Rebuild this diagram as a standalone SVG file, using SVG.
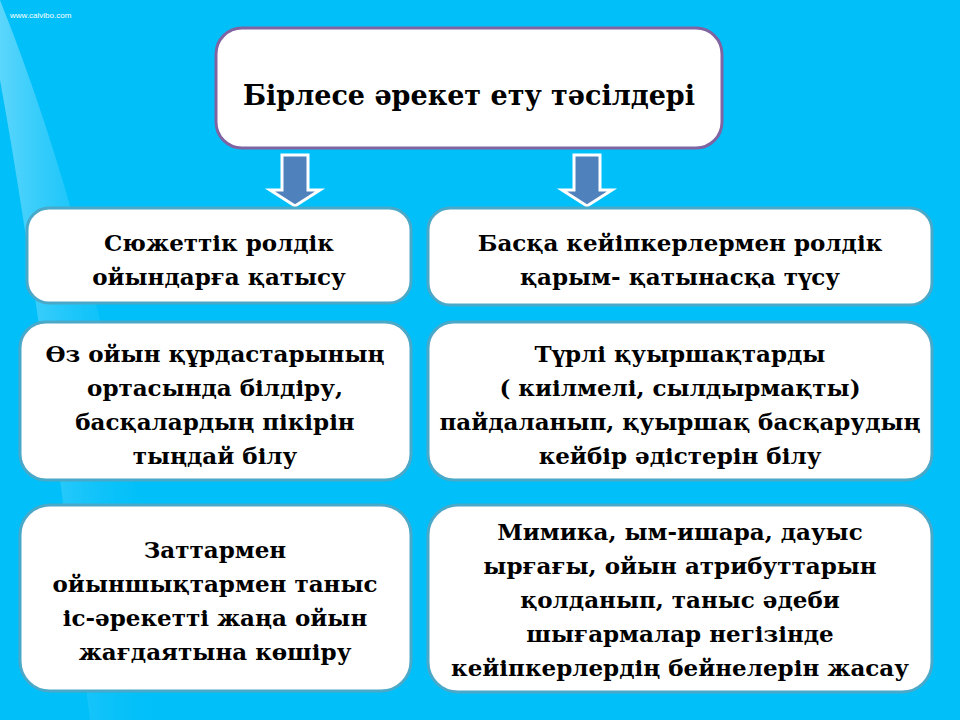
<svg xmlns="http://www.w3.org/2000/svg" width="960" height="720" viewBox="0 0 960 720">
<defs>
<style>
.b{fill:#fff;stroke:#4aa8c8;stroke-width:3}
.t{font-family:"DejaVu Serif","Liberation Serif",serif;font-weight:bold;font-size:23px;fill:#000;text-anchor:middle}
.ar{fill:#4f81bd;stroke:#fff;stroke-width:3}
</style>
<linearGradient id="glow" x1="0" y1="0" x2="1" y2="0">
<stop offset="0" stop-color="#bfefff" stop-opacity="0.8"/>
<stop offset="1" stop-color="#00bff9" stop-opacity="0"/>
</linearGradient>
</defs>
<rect width="960" height="720" fill="#00bff9"/>
<path d="M0 0 Q120 300 170 720 L90 720 Q40 300 0 80 Z" fill="url(#glow)" opacity="0.6"/>
<text x="10" y="18" font-family="Liberation Sans,sans-serif" font-size="8" fill="#fff">www.calvibo.com</text>
<g id="title"><rect x="216" y="28" width="506" height="120" rx="26" fill="#fff" stroke="#8064a2" stroke-width="3"/>
<text x="469" y="105" class="t" style="font-size:27px">Бірлесе әрекет ету тәсілдері</text></g>
<g id="connectors">
<path class="ar" d="M282 155 H308 V190 H320 L295 206 L270 190 H282 Z"/>
<path class="ar" d="M574 155 H600 V190 H612 L587 206 L562 190 H574 Z"/>
</g>
<g id="n1"><rect class="b" x="27" y="208" width="384" height="95" rx="22"/>
<text class="t"><tspan x="219" y="251">Сюжеттік ролдік</tspan><tspan x="219" y="285">ойындарға қатысу</tspan></text></g>
<g id="n2"><rect class="b" x="428" y="208" width="504" height="97" rx="22"/>
<text class="t"><tspan x="680" y="251">Басқа кейіпкерлермен ролдік</tspan><tspan x="680" y="285">қарым- қатынасқа түсу</tspan></text></g>
<g id="n3"><rect class="b" x="20" y="322" width="391" height="158" rx="26"/>
<text class="t"><tspan x="215" y="362">Өз ойын құрдастарының</tspan><tspan x="215" y="396">ортасында  білдіру,</tspan><tspan x="215" y="430">басқалардың    пікірін</tspan><tspan x="215" y="464">тыңдай білу</tspan></text></g>
<g id="n4"><rect class="b" x="428" y="322" width="504" height="158" rx="26"/>
<text class="t"><tspan x="680" y="362">Түрлі қуыршақтарды</tspan><tspan x="680" y="396">( киілмелі, сылдырмақты)</tspan><tspan x="680" y="430">пайдаланып, қуыршақ басқарудың</tspan><tspan x="680" y="464">кейбір әдістерін білу</tspan></text></g>
<g id="n5"><rect class="b" x="20" y="505" width="391" height="186" rx="30"/>
<text class="t"><tspan x="215" y="558">Заттармен</tspan><tspan x="215" y="592">ойыншықтармен  таныс</tspan><tspan x="215" y="626">іс-әрекетті  жаңа ойын</tspan><tspan x="215" y="660">жағдаятына көшіру</tspan></text></g>
<g id="n6"><rect class="b" x="428" y="505" width="504" height="187" rx="30"/>
<text class="t"><tspan x="680" y="540">Мимика, ым-ишара, дауыс</tspan><tspan x="680" y="574">ырғағы, ойын атрибуттарын</tspan><tspan x="680" y="608">қолданып, таныс әдеби</tspan><tspan x="680" y="642">шығармалар негізінде</tspan><tspan x="680" y="676">кейіпкерлердің бейнелерін жасау</tspan></text></g>
</svg>
